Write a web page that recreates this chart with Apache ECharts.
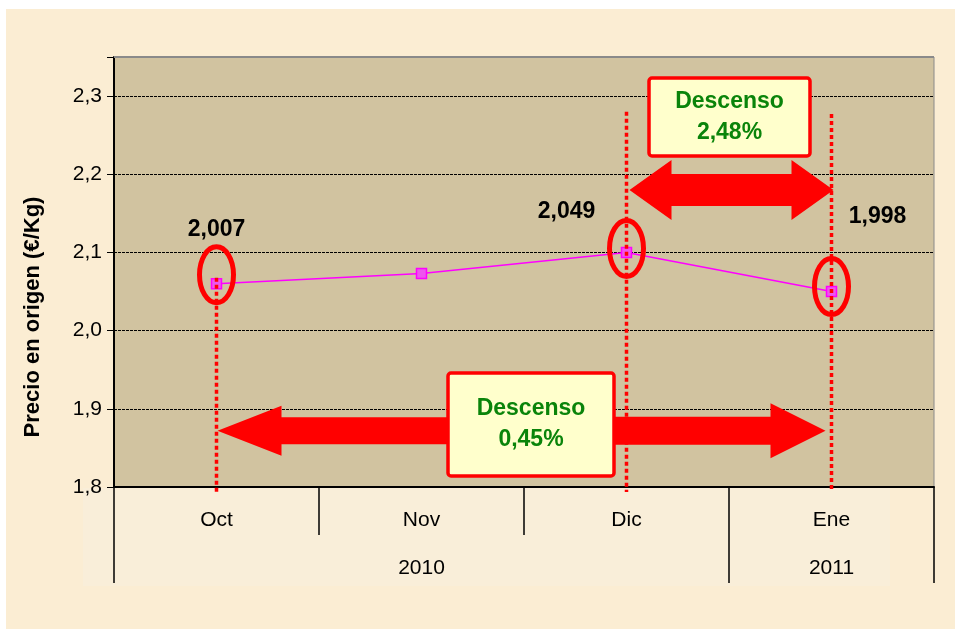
<!DOCTYPE html>
<html><head><meta charset="utf-8">
<script src="https://cdn.jsdelivr.net/npm/echarts@6/dist/echarts.min.js"></script>
<style>
html,body{margin:0;padding:0;background:#fff;width:955px;height:629px;overflow:hidden}
#c{position:absolute;left:6px;top:9px;width:949px;height:620px;background:#fbedd3}
</style>
</head><body><div id="c"></div>
<script>
// ---- data ----
const months = ['Oct', 'Nov', 'Dic', 'Ene'];
const years = ['2010', '2010', '2010', '2011'];
const yearLabelShown = [false, true, false, true];
const yearBoundary = [true, false, false, true];
const prices = [2.06, 2.073, 2.1, 2.05];
const priceLabels = ['2,007', '', '2,049', '1,998'];
const circled = [0, 2, 3];
const yMin = 1.8, yMax = 2.35, yStep = 0.1;
const yAxisTitle = 'Precio en origen (€/Kg)';
const topChange = ['Descenso', '2,48%'];
const bottomChange = ['Descenso', '0,45%'];

const FONT = 'Liberation Sans, Arial, sans-serif';
const chart = echarts.init(document.getElementById('c'));

const option = {
  animation: false,
  grid: {left: 108, top: 48, right: 21, bottom: 142, show: true,
         backgroundColor: '#d1c3a0', borderColor: '#8a8a8a', borderWidth: 1},
  xAxis: [{
    type: 'category', data: months, position: 'bottom',
    axisLine: {show: true, lineStyle: {color: '#000', width: 2}},
    axisTick: {show: true, interval: 0, length: 48, lineStyle: {color: '#000', width: 1.5}},
    axisLabel: {interval: 0, margin: 23, fontSize: 21, color: '#000', fontFamily: FONT},
    splitLine: {show: false}
  }, {
    type: 'category', data: years, position: 'bottom',
    axisLine: {show: false},
    axisTick: {show: true, length: 96, interval: (i) => yearBoundary[i], lineStyle: {color: '#000', width: 1.5}},
    axisLabel: {interval: (i) => yearLabelShown[i], margin: 71, fontSize: 21, color: '#000', fontFamily: FONT},
    splitLine: {show: false}
  }],
  yAxis: {
    type: 'value', min: yMin, max: yMax, interval: yStep,
    axisLine: {show: true, lineStyle: {color: '#000', width: 2}},
    axisTick: {show: true, length: 7, lineStyle: {color: '#000', width: 1}},
    axisLabel: {margin: 12, fontSize: 21, color: '#000', fontFamily: FONT,
      formatter: v => Math.abs(v * 10 - Math.round(v * 10)) < 1e-6 ? v.toFixed(1).replace('.', ',') : ''},
    splitLine: {show: true, lineStyle: {color: '#000', type: [3, 1], width: 1}}
  },
  series: [{
    type: 'line', data: prices, xAxisIndex: 0,
    symbol: 'rect', symbolSize: 10,
    lineStyle: {color: '#ff00ff', width: 1.6},
    itemStyle: {color: '#ee55ee', borderColor: '#ff00ff', borderWidth: 1.5},
    z: 3
  }]
};
chart.setOption(option);

function px(i, v) { return chart.convertToPixel({gridIndex: 0}, [months[i], v]); }
const g = [];
const RED = '#ff0000', GREEN = '#0a840a';

// table background under the axis
g.push({type: 'rect', z: -10, silent: true, shape: {x: 77, y: 479, width: 807, height: 98},
        style: {fill: '#f9eed9'}});

// plot top border (gray)
{
  const yTop = px(0, yMax)[1], xl = px(0, yMin)[0] - 103, xr = chart.getWidth() - 21;
  g.push({type: 'line', z: 5, shape: {x1: 108, y1: yTop, x2: xr, y2: yTop},
    style: {stroke: '#8a8a8a', lineWidth: 2}});
}

// y-axis title
g.push({type: 'text', z: 10, x: 27, y: 308, rotation: Math.PI / 2,
  style: {text: yAxisTitle, font: 'bold 22px ' + FONT, fill: '#000', align: 'center', verticalAlign: 'middle'}});

// dotted vertical lines
const plotBottom = px(0, yMin)[1];
const vStart = {0: px(0, prices[0])[1] - 6, 2: px(2, 2.28)[1], 3: px(3, 2.277)[1]};
circled.forEach(i => {
  const x = px(i, yMin)[0];
  g.push({type: 'line', z: 20, shape: {x1: x, y1: vStart[i], x2: x, y2: plotBottom + 5},
    style: {stroke: RED, lineWidth: 3.5, lineDash: [4, 3]}});
});

// ellipses around points
const ellDy = {0: -9, 2: -4, 3: -5};
circled.forEach(i => {
  const p = px(i, prices[i]);
  g.push({type: 'ellipse', z: 21, shape: {cx: p[0], cy: p[1] + ellDy[i], rx: 17, ry: 28},
    style: {fill: 'none', stroke: RED, lineWidth: 5}});
});

// value labels
const labOff = {0: [0, -54], 2: [-60, -41], 3: [46, -75]};
priceLabels.forEach((t, i) => {
  if (!t) return;
  const p = px(i, prices[i]);
  g.push({type: 'text', z: 22, x: p[0] + labOff[i][0], y: p[1] + labOff[i][1],
    style: {text: t, font: 'bold 23px ' + FONT, fill: '#000', align: 'center', verticalAlign: 'middle'}});
});

// top double arrow (Dic -> Ene)
{
  const cy = px(2, 2.18)[1];
  const lt = px(2, yMin)[0] + 3, rt = px(3, yMin)[0] + 2, hl = 42, hh = 30, sh = 16;
  g.push({type: 'polygon', z: 23, shape: {points: [
    [lt, cy], [lt + hl, cy - hh], [lt + hl, cy - sh], [rt - hl, cy - sh], [rt - hl, cy - hh],
    [rt, cy], [rt - hl, cy + hh], [rt - hl, cy + sh], [lt + hl, cy + sh], [lt + hl, cy + hh]]},
    style: {fill: RED}});
}
// bottom arrows (Oct <- ... -> Ene)
{
  const cy = px(0, 1.872)[1];
  const lt = px(0, yMin)[0] + 1, rt = px(3, yMin)[0] - 6;
  g.push({type: 'polygon', z: 23, shape: {points: [
    [lt, cy], [lt + 64, cy - 25], [lt + 64, cy - 13.5], [lt + 240, cy - 13.5], [lt + 240, cy + 13.5],
    [lt + 64, cy + 13.5], [lt + 64, cy + 25]]}, style: {fill: RED}});
  g.push({type: 'polygon', z: 23, shape: {points: [
    [rt, cy], [rt - 55, cy - 27.5], [rt - 55, cy - 14], [rt - 215, cy - 14], [rt - 215, cy + 14],
    [rt - 55, cy + 14], [rt - 55, cy + 27.5]]}, style: {fill: RED}});
}

// boxes
function box(x, y, w, h, lines) {
  g.push({type: 'rect', z: 24, shape: {x: x, y: y, width: w, height: h, r: 3},
    style: {fill: '#ffffcc', stroke: RED, lineWidth: 3.5}});
  const cx = x + w / 2;
  const gap = lines.length > 1 ? 31 : 0;
  const y0 = y + h / 2 - gap / 2;
  lines.forEach((t, k) => g.push({type: 'text', z: 25, x: cx, y: y0 + k * gap,
    style: {text: t, font: 'bold 23px ' + FONT, fill: GREEN, align: 'center', verticalAlign: 'middle'}}));
}
box(643, 69, 161, 78, topChange);
box(442, 364, 166, 103, bottomChange);

chart.setOption({graphic: {elements: g}});
</script>
</body></html>
